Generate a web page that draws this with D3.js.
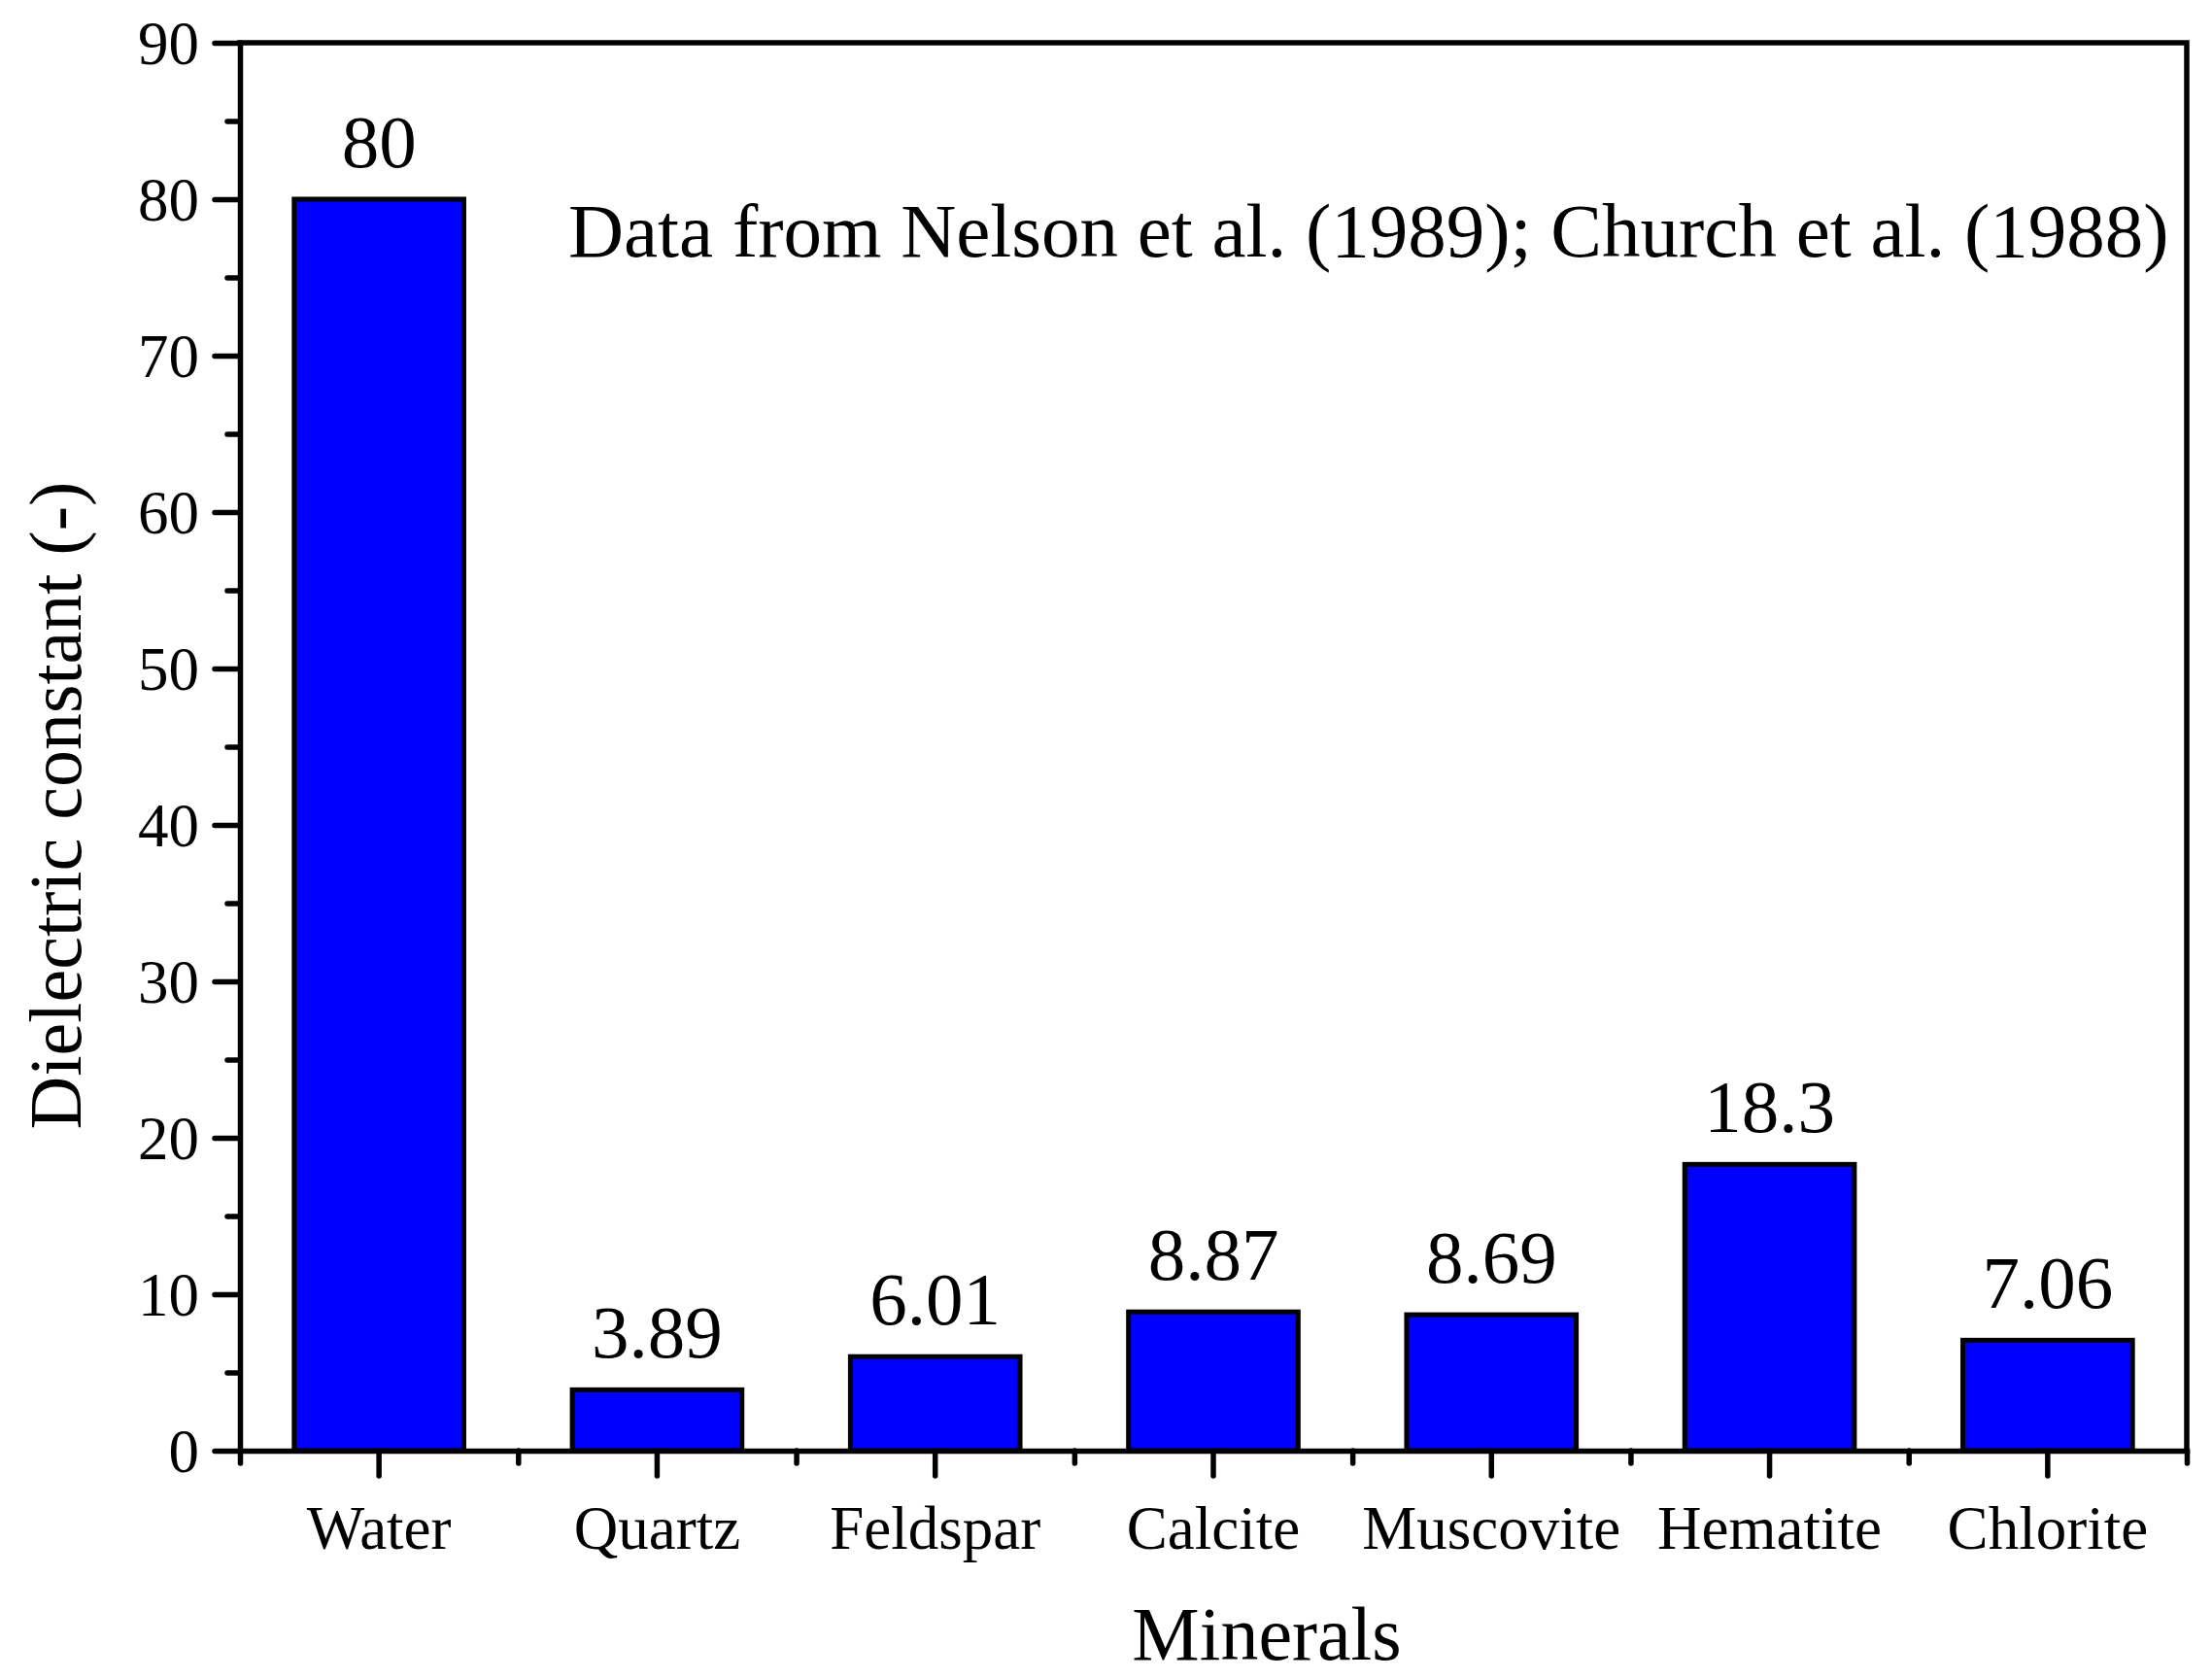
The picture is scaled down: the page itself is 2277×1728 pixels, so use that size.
<!DOCTYPE html>
<html>
<head>
<meta charset="utf-8">
<script src="https://cdn.jsdelivr.net/npm/d3@7"></script>
<style>
  html, body { margin: 0; padding: 0; background: #fff; }
  svg text { font-family: "Liberation Serif", "Times New Roman", serif; fill: #000; }
</style>
</head>
<body>
<svg id="chart" width="2277" height="1728"></svg>
<script>
'use strict';

// Data
const minerals = ['Water', 'Quartz', 'Feldspar', 'Calcite', 'Muscovite', 'Hematite', 'Chlorite'];
const dielectric = [80, 3.89, 6.01, 8.87, 8.69, 18.3, 7.06];
const valueLabels = ['80', '3.89', '6.01', '8.87', '8.69', '18.3', '7.06'];
const yMajorTicks = [0, 10, 20, 30, 40, 50, 60, 70, 80, 90];
const yMinorTicks = [5, 15, 25, 35, 45, 55, 65, 75, 85];
const sourceNote = 'Data from Nelson et al. (1989); Church et al. (1988)';

const W = 2277, H = 1728;
const plot = { left: 247, right: 2251, top: 44, bottom: 1493 };

const svg = d3.select('#chart');

const x = d3.scaleBand()
  .domain(minerals)
  .range([plot.left, plot.right])
  .paddingInner(0.39)
  .paddingOuter(0.195);

// slot boundaries for minor ticks on the x axis
const xSlots = d3.scaleLinear()
  .domain([0, minerals.length])
  .range([plot.left, plot.right]);

const y = d3.scaleLinear()
  .domain([0, 90])
  .range([plot.bottom, plot.top]);

// Bars
svg.append('g')
  .selectAll('rect')
  .data(dielectric)
  .join('rect')
  .attr('x', (d, i) => x(minerals[i]))
  .attr('y', d => y(d))
  .attr('width', x.bandwidth())
  .attr('height', d => y(0) - y(d))
  .attr('fill', '#0000ff')
  .attr('stroke', '#000')
  .attr('stroke-width', 5);

// Value labels above bars
svg.append('g')
  .selectAll('text')
  .data(dielectric)
  .join('text')
  .attr('x', (d, i) => x(minerals[i]) + x.bandwidth() / 2)
  .attr('y', d => y(d) - 33)
  .attr('text-anchor', 'middle')
  .attr('font-size', 77)
  .text((d, i) => valueLabels[i]);

// Frame (top + right)
svg.append('path')
  .attr('d', `M${plot.left},${plot.top}H${plot.right}V${plot.bottom}`)
  .attr('fill', 'none')
  .attr('stroke', '#000')
  .attr('stroke-width', 5.5)
  .attr('stroke-linecap', 'square');

function styleAxis(g) {
  g.select('.domain').attr('stroke-width', 5.5).attr('stroke-linecap', 'square');
  g.selectAll('.tick line').attr('stroke-width', 5.5).attr('stroke-linecap', 'round');
}

// Y axis
const yAxis = svg.append('g')
  .attr('transform', `translate(${plot.left},0)`)
  .call(d3.axisLeft(y).tickValues(yMajorTicks).tickSize(26).tickSizeOuter(0).tickPadding(16));
styleAxis(yAxis);
yAxis.selectAll('.tick text')
  .attr('font-size', 63)
  .attr('font-family', '"Liberation Serif", serif')
  .attr('dy', '0.34em');

const yMinor = svg.append('g')
  .attr('transform', `translate(${plot.left},0)`)
  .call(d3.axisLeft(y).tickValues(yMinorTicks).tickSize(13).tickFormat(''));
yMinor.select('.domain').remove();
yMinor.selectAll('.tick line').attr('stroke-width', 5.5).attr('stroke-linecap', 'round');

// X axis
const xAxis = svg.append('g')
  .attr('transform', `translate(0,${plot.bottom})`)
  .call(d3.axisBottom(x).tickSize(26).tickSizeOuter(0).tickPadding(30));
styleAxis(xAxis);
xAxis.selectAll('.tick text')
  .attr('font-size', 63)
  .attr('font-family', '"Liberation Serif", serif');

const xMinor = svg.append('g')
  .attr('transform', `translate(0,${plot.bottom})`)
  .call(d3.axisBottom(xSlots).tickValues(d3.range(minerals.length + 1)).tickSize(13).tickFormat(''));
xMinor.select('.domain').remove();
xMinor.selectAll('.tick line').attr('stroke-width', 5.5).attr('stroke-linecap', 'round');

// Axis titles
svg.append('text')
  .attr('x', 1304)
  .attr('y', 1708)
  .attr('text-anchor', 'middle')
  .attr('font-size', 78)
  .text('Minerals');

svg.append('text')
  .attr('transform', `translate(83,829) rotate(-90)`)
  .attr('text-anchor', 'middle')
  .attr('font-size', 76)
  .text('Dielectric constant (-)');

// Source note
svg.append('text')
  .attr('x', 585)
  .attr('y', 264)
  .attr('font-size', 79)
  .text(sourceNote);
</script>
</body>
</html>
